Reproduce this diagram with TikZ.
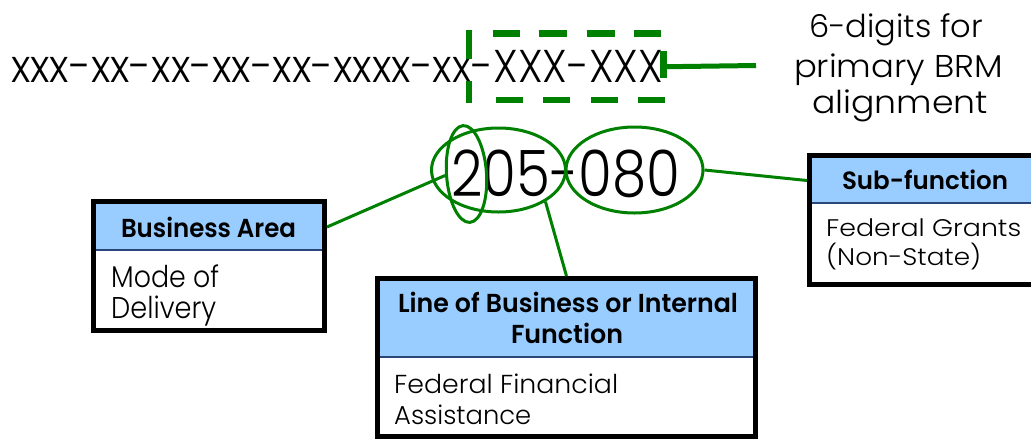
\documentclass[tikz,border=0pt]{standalone}
\usepackage{fontspec}
\setmainfont{Poppins Light}[BoldFont={Poppins SemiBold}]
\usepackage{graphicx}
\usetikzlibrary{shapes.geometric}
\definecolor{lnk}{RGB}{0,128,0}
\definecolor{hdrblue}{RGB}{153,204,255}
\definecolor{sepblue}{RGB}{40,70,120}
\newcommand\fitw[2]{\resizebox{#1}{\height}{#2}}
\begin{document}
\begin{tikzpicture}[x=1pt,y=-1pt,
  txt/.style={inner sep=0, anchor=base},
  txtl/.style={inner sep=0, anchor=base west},
  oval/.style={ellipse, draw=lnk, line width=3pt, inner sep=0},
  link/.style={draw=lnk, line width=3pt},
  seldash/.style={draw=lnk, line width=6.5pt, line cap=butt},
  frame/.style={draw=black, line width=5pt, inner sep=0, fill=white},
  hdrfill/.style={fill=hdrblue, inner sep=0},
  sepline/.style={draw=sepblue, line width=2pt},
  codefont/.style={font={\fontsize{46}{46}\selectfont}},
  numfont/.style={font={\fontsize{64}{64}\selectfont}},
  notefont/.style={font={\fontsize{31.5}{31.5}\selectfont}},
  hdrfont/.style={font={\bfseries\fontsize{26}{26}\selectfont}},
  bodyfont/.style={font={\fontsize{26}{26}\selectfont}}]
\useasboundingbox (0,0) rectangle (1031,440);

% code line
\node[txtl, codefont] (code) at (11,82) {\fitw{652pt}{xxx-xx-xx-xx-xx-xxxx-xx-XXX-XXX}};
\node[inner sep=0, minimum width=194.5pt, minimum height=66.5pt] (sel) at (566.25,66.75) {};
\draw[seldash, dash pattern=on 0pt off 24pt on 27pt off 19pt on 28pt off 20pt on 28pt off 19pt on 27pt off 10pt]
  (sel.north west) -- (sel.north east);
\draw[seldash, dash pattern=on 0pt off 27pt on 27pt off 20pt on 27pt off 21pt on 27pt off 20pt on 27pt off 10pt]
  (sel.south west) -- ([xshift=1.5pt]sel.south east);
\draw[seldash, dash pattern=on 28.5pt off 22pt on 22pt off 10pt]
  ([yshift=3pt]sel.north west) -- ([yshift=-3pt]sel.south west);
\draw[seldash, line width=7pt, dash pattern=on 0pt off 17.5pt on 27pt off 30pt]
  (sel.north east) -- (sel.south east);
\coordinate (brmend) at (756,65.5);
\draw[link, line width=5pt] (sel.east) -- (brmend);

% note
\node[txt, notefont] (n1) at (896,37) {\fitw{174pt}{6-digits for}};
\node[txt, notefont] (n2) at (898.5,77) {\fitw{209pt}{primary BRM}};
\node[txt, notefont] (n3) at (900,113) {\fitw{176pt}{alignment}};

% number and ovals
\node[txtl, numfont] (num) at (451,196) {\fitw{229pt}{205-080}};
\node[oval, minimum width=134pt, minimum height=84pt] (e205) at (498.5,170) {};
\node[oval, minimum width=137pt, minimum height=86pt] (e080) at (634.5,170) {};
\node[oval, minimum width=40pt, minimum height=97pt, rotate=4] (e2) at (466.5,174) {};

% boxes
\node[frame, minimum width=231pt, minimum height=129pt] (ba) at (209,266) {};
\node[hdrfill, minimum width=226pt, minimum height=46pt] (bah) at (209,227) {};
\draw[sepline] (bah.south west) -- (bah.south east);
\node[txt, hdrfont] (bat) at (208.5,237) {\fitw{175pt}{Business Area}};
\node[txtl, font={\fontsize{30}{30}\selectfont}] (bb1) at (111,287) {\fitw{108pt}{Mode of}};
\node[txtl, font={\fontsize{30}{30}\selectfont}] (bb2) at (111,318) {\fitw{105pt}{Delivery}};

\node[frame, minimum width=378pt, minimum height=158pt] (lob) at (566.5,357.5) {};
\node[hdrfill, minimum width=373pt, minimum height=76pt] (lobh) at (566.5,319) {};
\draw[sepline] (lobh.south west) -- (lobh.south east);
\node[txt, hdrfont] (lt1) at (568,312) {\fitw{340pt}{Line of Business or Internal}};
\node[txt, hdrfont] (lt2) at (567,343) {\fitw{112pt}{Function}};
\node[txtl, bodyfont] (lb1) at (394,393) {\fitw{224pt}{Federal Financial}};
\node[txtl, bodyfont] (lb2) at (394,424) {\fitw{137pt}{Assistance}};

\node[frame, minimum width=240.5pt, minimum height=129pt] (sub) at (929.75,220) {};
\node[hdrfill, minimum width=235.5pt, minimum height=45pt] (subh) at (929.75,180.5) {};
\draw[sepline] (subh.south west) -- (subh.south east);
\node[txt, font={\bfseries\fontsize{25}{25}\selectfont}] (st) at (925,189) {\fitw{166pt}{Sub-function}};
\node[txtl, font={\fontsize{24}{24}\selectfont}] (sb1) at (826,236) {\fitw{195pt}{Federal Grants}};
\node[txtl, font={\fontsize{24}{24}\selectfont}] (sb2) at (826,265) {\fitw{155pt}{(Non-State)}};

% connectors
\draw[link] (e2.west) -- (bah.east -| ba.east);
\draw[link] (e205.-34) -- (lob.north);
\draw[link] (e080.east) -- (subh.west -| sub.west);
\end{tikzpicture}
\end{document}
